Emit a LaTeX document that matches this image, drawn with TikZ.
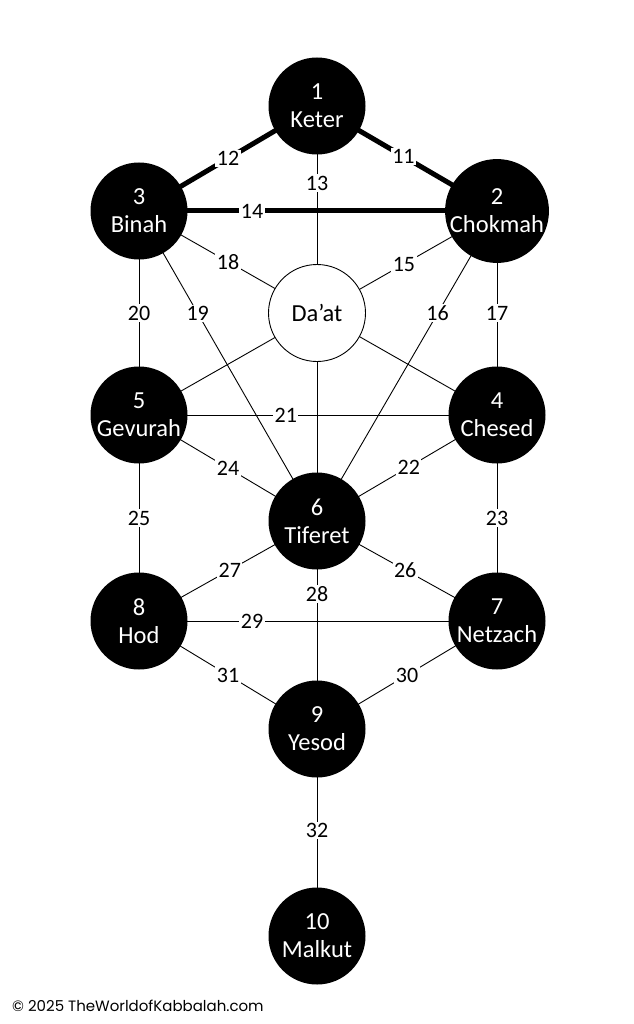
\documentclass[tikz,border=0pt]{standalone}
\usepackage{fontspec}
\setmainfont{Carlito}
\newfontfamily\footfont{Poppins}
\usetikzlibrary{positioning}
\pgfdeclarelayer{paths}
\pgfsetlayers{paths,main}

\begin{document}
\begin{tikzpicture}[x=1pt, y=-1pt,
  sefira/.style={circle, fill=black, text=white, minimum size=97pt, inner sep=0pt,
    align=center, font=\fontsize{24.5}{28}\selectfont},
  daat/.style={sefira, fill=white, draw=black, line width=0.9pt, text=black},
  channel/.style={line width=0.9pt},
  pillar/.style={line width=5pt},
  num/.style={fill=white, inner sep=1.5pt, font=\fontsize{22}{24}\selectfont}]

\useasboundingbox (0,0) rectangle (633,1024);

\node[sefira] (keter) at (317,106) {1\\Keter};
\node[sefira] (chokmah) at (497,211) {2\\Chokmah};
\node[sefira] (binah) at (139,211) {3\\Binah};
\node[daat] (daat) at (317,313) {Da'at};
\node[sefira] (chesed) at (497,415) {4\\Chesed};
\node[sefira] (gevurah) at (139,415) {5\\Gevurah};
\node[sefira] (tiferet) at (317,521) {6\\Tiferet};
\node[sefira] (netzach) at (497,621) {7\\Netzach};
\node[sefira] (hod) at (139,621) {8\\Hod};
\node[sefira] (yesod) at (317,729) {9\\Yesod};
\node[sefira] (malkut) at (317,936) {10\\Malkut};

\begin{pgfonlayer}{paths}
\draw[pillar] (keter.center) -- (chokmah.center) node[num, pos=0.48] {11};
\draw[pillar] (keter.center) -- (binah.center) node[num, pos=0.5] {12};
\draw[channel] (keter.center) -- (tiferet.center) node[num, pos=0.186] {13};
\draw[pillar] (binah.center) -- (chokmah.center) node[num, pos=0.316] {14};
\draw[channel] (chokmah.center) -- (gevurah.center) node[num, pos=0.26] {15};
\draw[channel] (chokmah.center) -- (tiferet.center) node[num, pos=0.33] {16};
\draw[channel] (chokmah.center) -- (chesed.center) node[num, pos=0.5] {17};
\draw[channel] (binah.center) -- (chesed.center) node[num, pos=0.249] {18};
\draw[channel] (binah.center) -- (tiferet.center) node[num, pos=0.33] {19};
\draw[channel] (binah.center) -- (gevurah.center) node[num, pos=0.5] {20};
\draw[channel] (gevurah.center) -- (chesed.center) node[num, pos=0.41] {21};
\draw[channel] (chesed.center) -- (tiferet.center) node[num, pos=0.49] {22};
\draw[channel] (chesed.center) -- (netzach.center) node[num, pos=0.5] {23};
\draw[channel] (gevurah.center) -- (tiferet.center) node[num, pos=0.5] {24};
\draw[channel] (gevurah.center) -- (hod.center) node[num, pos=0.5] {25};
\draw[channel] (tiferet.center) -- (netzach.center) node[num, pos=0.49] {26};
\draw[channel] (tiferet.center) -- (hod.center) node[num, pos=0.49] {27};
\draw[channel] (tiferet.center) -- (yesod.center) node[num, pos=0.35] {28};
\draw[channel] (hod.center) -- (netzach.center) node[num, pos=0.316] {29};
\draw[channel] (netzach.center) -- (yesod.center) node[num, pos=0.5] {30};
\draw[channel] (hod.center) -- (yesod.center) node[num, pos=0.5] {31};
\draw[channel] (yesod.center) -- (malkut.center) node[num, pos=0.49] {32};
\end{pgfonlayer}

\node[anchor=base west, inner sep=0pt, font=\footfont\fontsize{15}{18}\selectfont] (credit) at (12,1011) {© 2025 TheWorldofKabbalah.com};

\end{tikzpicture}
\end{document}
